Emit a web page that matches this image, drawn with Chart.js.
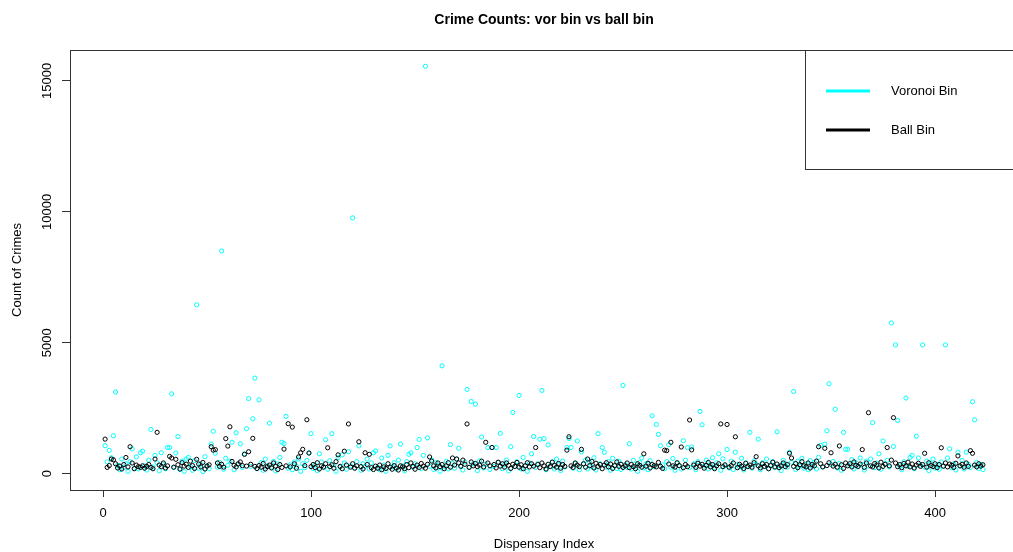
<!DOCTYPE html>
<html>
<head>
<meta charset="utf-8">
<title>Crime Counts: vor bin vs ball bin</title>
<script src="https://cdn.jsdelivr.net/npm/chart.js@4.4.1/dist/chart.umd.min.js"></script>
<style>
  html, body { margin: 0; padding: 0; background: #fff; overflow: hidden; }
  #wrap { width: 1025px; height: 552px; }
</style>
</head>
<body>
<div id="wrap"><canvas id="c" width="1025" height="552"></canvas></div>
<script>
// Crime counts per dispensary, binned two ways (index 1..423)
const voronoiBin = [
  1070, 450, 890, 610, 1450, 3120, 320, 150, 560, 240,
  380, 90, 460, 950, 210, 640, 180, 800, 860, 300,
  140, 520, 1690, 260, 700, 420, 110, 800, 350, 190,
  1000, 1000, 3050, 240, 790, 1420, 160, 480, 90, 560,
  620, 280, 130, 500, 6450, 210, 370, 80, 650, 300,
  190, 1130, 1620, 780, 250, 430, 8510, 170, 590, 320,
  480, 1200, 150, 1560, 360, 1145, 240, 760, 1720, 2870,
  280, 2100, 3650, 190, 2820, 420, 130, 560, 300, 1930,
  250, 470, 110, 380, 620, 1200, 1150, 2190, 210, 340,
  150, 450, 280, 560, 90, 380, 230, 510, 790, 1530,
  200, 340, 120, 760, 450, 260, 1300, 170, 500, 1530,
  330, 90, 610, 250, 720, 410, 170, 840, 300, 9770,
  220, 460, 1060, 130, 380, 290, 560, 180, 410, 800,
  870, 240, 150, 600, 330, 90, 700, 1060, 260, 420,
  180, 520, 1130, 300, 110, 460, 740, 800, 250, 380,
  1000, 1310, 190, 700, 15560, 1370, 280, 530, 160, 420,
  330, 90, 4120, 260, 480, 180, 1110, 390, 210, 560,
  970, 300, 140, 450, 3220, 250, 2760, 380, 2660, 120,
  490, 1400, 220, 360, 1000, 160, 1000, 280, 1000, 430,
  1540, 190, 350, 520, 110, 1030, 2340, 270, 460, 2990,
  180, 620, 300, 90, 410, 760, 1420, 240, 380, 1320,
  3180, 1340, 150, 1100, 290, 450, 180, 560, 340, 120,
  480, 260, 1000, 1340, 1000, 210, 400, 1250, 150, 830,
  360, 520, 180, 430, 270, 610, 140, 1530, 380, 1000,
  820, 250, 460, 130, 590, 300, 200, 480, 160, 3370,
  350, 240, 1145, 180, 510, 290, 90, 430, 600, 220,
  380, 150, 500, 2210, 270, 1880, 1500, 1070, 340, 190,
  460, 1110, 250, 580, 130, 400, 310, 180, 1260, 520,
  1000, 240, 1020, 380, 150, 460, 2380, 1870, 290, 520,
  180, 350, 610, 240, 420, 760, 130, 570, 300, 925,
  220, 480, 160, 820, 350, 260, 590, 140, 410, 300,
  1580, 210, 490, 370, 1320, 150, 420, 280, 560, 190,
  340, 460, 230, 1600, 300, 120, 510, 380, 250, 820,
  440, 3140, 160, 480, 290, 590, 210, 370, 150, 500,
  280, 430, 180, 620, 1080, 260, 1130, 1640, 3435, 350,
  470, 2460, 220, 390, 130, 1580, 930, 930, 310, 540,
  180, 420, 260, 600, 350, 140, 480, 290, 560, 1950,
  230, 410, 760, 170, 1250, 380, 510, 260, 5760, 1040,
  4920, 2035, 300, 150, 460, 2890, 280, 620, 700, 190,
  1430, 600, 330, 4920, 250, 480, 120, 390, 560, 210,
  340, 170, 450, 280, 4920, 600, 950, 230, 380, 140,
  820, 290, 510, 180, 820, 360, 240, 2750, 2060, 430,
  200, 350, 160
];

const ballBin = [
  1320, 240, 310, 560, 530, 380, 220, 290, 180, 350,
  620, 260, 1030, 410, 190, 330, 270, 240, 300, 210,
  280, 350, 240, 190, 560, 1580, 330, 270, 410, 220,
  300, 660, 600, 250, 550, 340, 180, 420, 290, 360,
  240, 480, 310, 200, 550, 370, 260, 430, 180, 290,
  340, 1030, 900, 920, 410, 280, 360, 250, 1340, 1055,
  1790, 470, 320, 260, 380, 450, 310, 740, 290, 840,
  360, 1350, 280, 200, 310, 250, 390, 180, 270, 330,
  220, 410, 290, 160, 350, 240, 940, 300, 1910, 260,
  1780, 380, 210, 640, 800, 930, 310, 2060, 790, 270,
  350, 230, 420, 180, 300, 250, 380, 990, 270, 340,
  210, 460, 720, 280, 190, 860, 330, 1900, 250, 380,
  210, 300, 1220, 270, 180, 800, 350, 740, 230, 160,
  290, 210, 330, 150, 260, 200, 380, 250, 170, 310,
  220, 140, 300, 260, 190, 350, 230, 410, 280, 170,
  330, 240, 390, 290, 210, 360, 640, 480, 300, 220,
  410, 270, 350, 190, 300, 420, 250, 600, 330, 560,
  410, 280, 520, 360, 1900, 240, 450, 300, 390, 270,
  330, 480, 260, 1200, 410, 300, 1000, 350, 220, 440,
  290, 380, 250, 410, 320, 200, 360, 280, 430, 250,
  340, 190, 300, 420, 260, 380, 290, 1000, 350, 230,
  410, 300, 180, 360, 270, 440, 320, 250, 390, 210,
  350, 280, 900, 1410, 300, 240, 410, 330, 270, 930,
  380, 250, 560, 310, 470, 220, 400, 280, 350, 190,
  330, 420, 260, 370, 200, 310, 450, 280, 360, 240,
  300, 410, 230, 350, 270, 190, 380, 320, 250, 760,
  290, 400, 220, 350, 310, 260, 430, 280, 200, 900,
  880, 370, 1200, 300, 250, 420, 310, 1020, 230, 350,
  270, 2050, 910, 330, 240, 400, 290, 360, 210, 320,
  430, 260, 350, 190, 300, 380, 1900, 270, 340, 1880,
  250, 310, 410, 1410, 230, 360, 290, 200, 400, 270,
  330, 250, 420, 650, 300, 220, 380, 280, 350, 190,
  310, 440, 260, 370, 230, 300, 410, 270, 350, 780,
  600, 280, 390, 230, 340, 460, 300, 260, 410, 220,
  350, 300, 480, 1030, 380, 260, 970, 310, 420, 800,
  290, 360, 250, 1060, 340, 200, 410, 300, 380, 260,
  450, 320, 280, 370, 920, 240, 410, 2330, 300, 260,
  390, 330, 220, 440, 280, 360, 1000, 300, 520, 2140,
  410, 270, 350, 230, 390, 300, 440, 260, 370, 220,
  330, 400, 280, 350, 780, 250, 420, 310, 270, 380,
  230, 350, 990, 290, 410, 260, 370, 320, 240, 400,
  680, 300, 360, 250, 410, 280, 880, 780, 330, 260,
  380, 290, 340
];

const xTicks = [0, 100, 200, 300, 400];
const yTicks = [0, 5000, 10000, 15000];

const seriesNames = ['Voronoi Bin', 'Ball Bin'];
const seriesColors = ['#00ffff', '#000000'];

const FONT = '"Liberation Sans", Arial, Helvetica, sans-serif';

// axis limits padded by 4% of the data range on each side
const nPts = Math.max(voronoiBin.length, ballBin.length);
const xPad = (nPts - 1) * 0.04;
const yMaxData = Math.max(...voronoiBin, ...ballBin);
const yPad = yMaxData * 0.04;

const toPoints = arr => arr.map((v, i) => ({ x: i + 1, y: v }));

// frame around the plotting region + title + legend box
const framePlugin = {
  id: 'frame',
  beforeDatasetsDraw(chart) {
    const { ctx, chartArea: a } = chart;
    ctx.save();
    ctx.strokeStyle = '#333';
    ctx.lineWidth = 1;
    ctx.strokeRect(Math.round(a.left) + 0.5, Math.round(a.top) + 0.5,
                   Math.round(a.right - a.left) - 1, Math.round(a.bottom - a.top));
    ctx.restore();
  },
  afterDraw(chart) {
    const { ctx, chartArea: a } = chart;
    ctx.save();
    // title
    ctx.fillStyle = '#000';
    ctx.font = 'bold 14px ' + FONT;
    ctx.textAlign = 'center';
    ctx.textBaseline = 'middle';
    ctx.fillText('Crime Counts: vor bin vs ball bin', (a.left + a.right) / 2, 20);

    // legend
    const lx = Math.round(a.right - 213), ly = Math.round(a.top);
    ctx.strokeStyle = '#333';
    ctx.lineWidth = 1;
    ctx.strokeRect(lx + 0.5, ly + 0.5, 260, 119);
    ctx.font = '13px ' + FONT;
    ctx.textAlign = 'left';
    chart.data.datasets.slice().sort((p, q) => p.legendRank - q.legendRank).forEach((ds, k) => {
      const yy = ly + 41 + k * 39;
      ctx.strokeStyle = ds.borderColor;
      ctx.lineWidth = 3;
      ctx.beginPath();
      ctx.moveTo(lx + 21, yy);
      ctx.lineTo(lx + 65, yy);
      ctx.stroke();
      ctx.fillStyle = '#000';
      ctx.fillText(ds.label, lx + 86, yy);
    });
    ctx.restore();
  }
};

new Chart(document.getElementById('c'), {
  type: 'scatter',
  data: {
    datasets: [
      {
        label: seriesNames[1],
        data: toPoints(ballBin),
        borderColor: seriesColors[1],
        backgroundColor: 'rgba(0,0,0,0)',
        pointRadius: 2.1,
        pointBorderWidth: 1,
        order: 0,
        legendRank: 1
      },
      {
        label: seriesNames[0],
        data: toPoints(voronoiBin),
        borderColor: seriesColors[0],
        backgroundColor: 'rgba(0,0,0,0)',
        pointRadius: 2.1,
        pointBorderWidth: 1,
        order: 1,
        legendRank: 0
      }
    ]
  },
  options: {
    responsive: false,
    animation: false,
    devicePixelRatio: 1,
    layout: { padding: { top: 50, right: 7, bottom: 0, left: 0 } },
    plugins: {
      legend: { display: false },
      title: { display: false },
      tooltip: { enabled: false }
    },
    scales: {
      x: {
        type: 'linear',
        min: 1 - xPad,
        max: nPts + xPad,
        afterFit: s => { s.height = 62; },
        afterBuildTicks: s => { s.ticks = xTicks.map(v => ({ value: v })); },
        grid: { drawOnChartArea: false, drawTicks: true, tickLength: 7, color: '#333' },
        border: { display: false },
        ticks: { color: '#000', font: { family: FONT, size: 13 }, padding: 9, maxRotation: 0,
                 callback: v => String(v) },
        title: { display: true, text: 'Dispensary Index', color: '#000',
                 font: { family: FONT, size: 13 }, padding: { top: 0, bottom: 0 } }
      },
      y: {
        type: 'linear',
        min: -yPad,
        max: yMaxData + yPad,
        afterFit: s => { s.width = 70; },
        afterBuildTicks: s => { s.ticks = yTicks.map(v => ({ value: v })); },
        grid: { drawOnChartArea: false, drawTicks: true, tickLength: 8, color: '#333' },
        border: { display: false },
        ticks: { color: '#000', font: { family: FONT, size: 13 }, padding: -3,
                 minRotation: 90, maxRotation: 90, crossAlign: 'center',
                 callback: v => String(v) },
        title: { display: true, text: 'Count of Crimes', color: '#000',
                 font: { family: FONT, size: 13 }, padding: { top: 10, bottom: 0 } }
      }
    }
  },
  plugins: [framePlugin]
});
</script>
</body>
</html>
